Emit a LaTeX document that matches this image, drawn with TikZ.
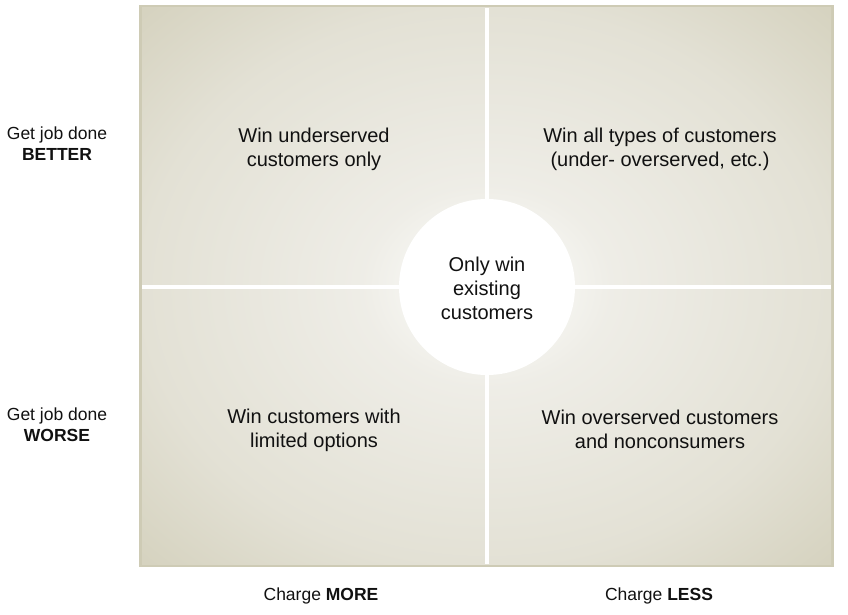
\documentclass[tikz,border=0pt]{standalone}
\usepackage{fontspec}
\setmainfont{Liberation Sans}
\pgfdeclareradialshading{quadshade}{\pgfpoint{0bp}{0bp}}{rgb(0bp)=(0.985,0.985,0.975); rgb(4bp)=(0.97,0.97,0.955); rgb(9bp)=(0.935,0.93,0.905); rgb(25bp)=(0.89,0.882,0.835); rgb(35bp)=(0.839,0.827,0.753); rgb(50bp)=(0.839,0.827,0.753)}
\definecolor{frameTan}{HTML}{CECBB5}
\definecolor{txt}{HTML}{111111}
\tikzset{
  quadtext/.style={align=center, text=txt, font=\fontsize{20}{24}\selectfont, inner sep=0pt},
  axistext/.style={align=center, text=txt, font=\fontsize{17.5}{21}\selectfont, inner sep=0pt},
  divider/.style={white, line width=4pt},
}
\begin{document}
\begin{tikzpicture}[x=1pt,y=-1pt]
\useasboundingbox (0,0) rectangle (848,615);
\fill[frameTan] (139,5) rectangle (834,567);
\shade[shading=quadshade] (142,8) rectangle (831,564);
\coordinate (vtop) at (487,8);
\coordinate (vbot) at (487,564);
\coordinate (hleft) at (142,287);
\coordinate (hright) at (831,287);
\draw[divider] (vtop) -- (vbot);
\draw[divider] (hleft) -- (hright);
\node[circle, fill=white, minimum size=176pt, inner sep=0pt] (center) at (487,287) {};
\node[quadtext] (ctext) at (487,288) {Only win\\existing\\customers};
\node[quadtext] (tl) at (314,149) {Win underserved\\customers only};
\node[quadtext] (tr) at (660,149) {Win all types of customers\\(under- overserved, etc.)};
\node[quadtext] (bl) at (314,430) {Win customers with\\limited options};
\node[quadtext] (br) at (660,429) {Win overserved customers\\and nonconsumers};
\node[axistext] (better) at (57,144) {Get job done\\\textbf{BETTER}};
\node[axistext] (worse) at (57,425) {Get job done\\\textbf{WORSE}};
\node[axistext] (more) at (321,596) {Charge \textbf{MORE}};
\node[axistext] (less) at (659,596) {Charge \textbf{LESS}};
\end{tikzpicture}
\end{document}
